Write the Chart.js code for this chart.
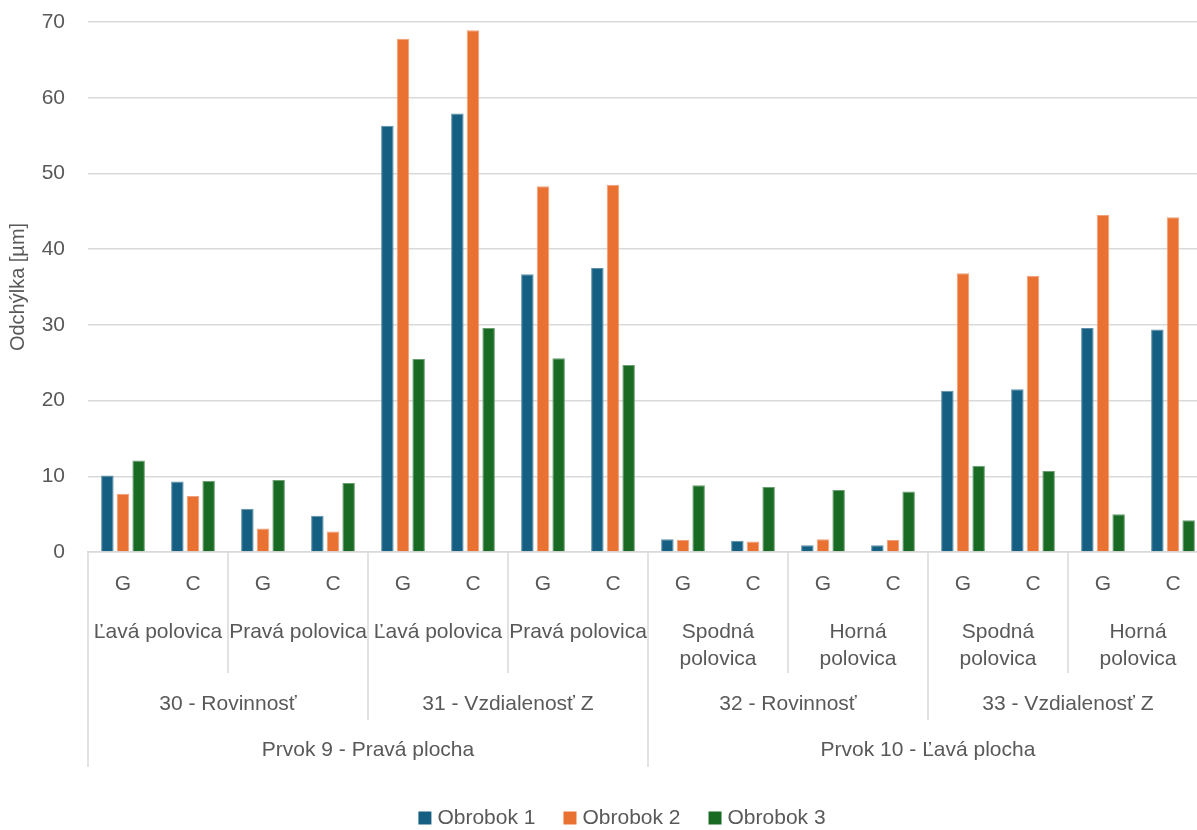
<!DOCTYPE html>
<html>
<head>
<meta charset="utf-8">
<script src="https://cdn.jsdelivr.net/npm/chart.js@4.4.1/dist/chart.umd.min.js"></script>
<style>
  html, body { margin: 0; padding: 0; background: #ffffff; overflow: hidden; }
  #wrap { width: 1197px; height: 830px; overflow: hidden; position: relative; }
  canvas { display: block; }
</style>
</head>
<body>
<div id="wrap"><canvas id="chart" width="1244" height="830"></canvas></div>
<script>
// Lowest axis level: one category per measurement method
const categories = ['G', 'C', 'G', 'C', 'G', 'C', 'G', 'C', 'G', 'C', 'G', 'C', 'G', 'C', 'G', 'C'];
// Second level: halves (each spans 2 categories), split into display lines
const halves = [
  ['Ľavá polovica'], ['Pravá polovica'], ['Ľavá polovica'], ['Pravá polovica'],
  ['Spodná', 'polovica'], ['Horná', 'polovica'], ['Spodná', 'polovica'], ['Horná', 'polovica']
];
// Third level: characteristics (each spans 4 categories)
const features = ['30 - Rovinnosť', '31 - Vzdialenosť Z', '32 - Rovinnosť', '33 - Vzdialenosť Z'];
// Top level: elements (each spans 8 categories)
const elements = ['Prvok 9 - Pravá plocha', 'Prvok 10 - Ľavá plocha'];

const seriesNames = ['Obrobok 1', 'Obrobok 2', 'Obrobok 3'];
const obrobok1 = [10.1, 9.3, 5.7, 4.8, 56.3, 57.9, 36.7, 37.5, 1.7, 1.5, 0.9, 0.9, 21.3, 21.5, 29.6, 29.4];
const obrobok2 = [7.7, 7.4, 3.1, 2.7, 67.8, 68.9, 48.3, 48.5, 1.6, 1.4, 1.7, 1.6, 36.8, 36.5, 44.5, 44.2];
const obrobok3 = [12.1, 9.4, 9.5, 9.1, 25.5, 29.6, 25.6, 24.7, 8.8, 8.6, 8.2, 8.0, 11.4, 10.7, 5.0, 4.2];

const yTicks = [0, 10, 20, 30, 40, 50, 60, 70];
const yTitle = 'Odchýlka [µm]';

const seriesColors = ['#156082', '#E97132', '#196B24'];
const seriesBorders = ['#5f8ea8', '#f0a07a', '#6a9d70'];
const textColor = '#595959';
const lineColor = '#d9d9d9';
const fontFamily = '"Liberation Sans", Arial, sans-serif';
const fontSize = 21;

// Draws the grouped category levels under the axis and the custom legend
const groupAxisPlugin = {
  id: 'groupAxis',
  afterDraw(chart) {
    const ctx = chart.ctx;
    const x = chart.scales.x;
    const n = categories.length;
    const w = (x.right - x.left) / n;
    const base = chart.chartArea.bottom;

    ctx.save();
    // divider lines between groups
    ctx.strokeStyle = lineColor;
    ctx.lineWidth = 1.5;
    for (let k = 0; k <= n; k++) {
      let len = 0;
      if (k % 8 === 0) len = 215;
      else if (k % 4 === 0) len = 168;
      else if (k % 2 === 0) len = 121;
      if (!len) continue;
      const px = x.left + k * w;
      ctx.beginPath();
      ctx.moveTo(px, base);
      ctx.lineTo(px, base + len);
      ctx.stroke();
    }

    ctx.fillStyle = textColor;
    ctx.font = fontSize + 'px ' + fontFamily;
    ctx.textAlign = 'center';
    ctx.textBaseline = 'middle';

    halves.forEach((lines, i) => {
      const cx = x.left + (i * 2 + 1) * w;
      lines.forEach((t, j) => ctx.fillText(t, cx, base + 80 + j * 27));
    });
    features.forEach((t, i) => {
      const cx = x.left + (i * 4 + 2) * w;
      ctx.fillText(t, cx, base + 152);
    });
    elements.forEach((t, i) => {
      const cx = x.left + (i * 8 + 4) * w;
      ctx.fillText(t, cx, base + 198);
    });

    // legend
    const box = 13, gap = 6, itemGap = 28;
    const widths = chart.data.datasets.map(d => box + gap + ctx.measureText(d.label).width);
    const total = widths.reduce((a, b) => a + b, 0) + itemGap * (widths.length - 1);
    let lx = chart.width / 2 - total / 2;
    const ly = 818;
    ctx.textAlign = 'left';
    chart.data.datasets.forEach((d, i) => {
      ctx.fillStyle = d.backgroundColor;
      ctx.fillRect(lx, ly - box / 2, box, box);
      ctx.fillStyle = textColor;
      ctx.fillText(d.label, lx + box + gap, ly);
      lx += widths[i] + itemGap;
    });
    ctx.restore();
  }
};

const seriesValues = [obrobok1, obrobok2, obrobok3];

new Chart(document.getElementById('chart'), {
  type: 'bar',
  data: {
    labels: categories,
    datasets: seriesNames.map((name, i) => ({
      label: name,
      data: seriesValues[i],
      backgroundColor: seriesColors[i],
      borderColor: seriesBorders[i],
      borderWidth: 1,
      categoryPercentage: 0.67,
      barPercentage: 0.8
    }))
  },
  options: {
    responsive: false,
    animation: false,
    layout: { padding: { top: 22, right: 36, bottom: 0, left: 0 } },
    plugins: {
      legend: { display: false },
      tooltip: { enabled: false }
    },
    scales: {
      x: {
        grid: { display: false, drawTicks: false },
        border: { display: true, color: lineColor, width: 1.5 },
        ticks: {
          color: textColor,
          font: { family: fontFamily, size: fontSize },
          padding: 20,
          autoSkip: false,
          maxRotation: 0
        },
        afterFit(scale) { scale.height = 278; }
      },
      y: {
        min: 0,
        max: 70,
        afterBuildTicks(scale) { scale.ticks = yTicks.map(v => ({ value: v })); },
        grid: { color: lineColor, lineWidth: 1.5, drawTicks: false },
        border: { display: false },
        ticks: {
          color: textColor,
          font: { family: fontFamily, size: fontSize },
          padding: 23
        },
        title: {
          display: true,
          text: yTitle,
          color: textColor,
          font: { family: fontFamily, size: 20 },
          padding: { top: 6, bottom: 0 }
        },
        afterFit(scale) {
          scale.width = 88;
          scale.paddingTop = 0;
          scale.paddingBottom = 0;
        }
      }
    }
  },
  plugins: [groupAxisPlugin]
});
</script>
</body>
</html>
